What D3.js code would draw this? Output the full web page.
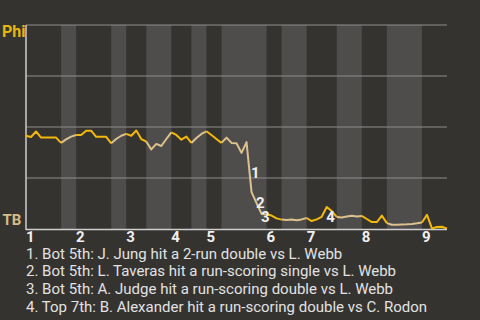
<!DOCTYPE html>
<html>
<head>
<meta charset="utf-8">
<script src="https://cdn.jsdelivr.net/npm/d3@7"></script>
<style>
  body { margin: 0; background: #353330; }
  svg { display: block; font-family: Roboto, "Noto Sans", sans-serif; }
</style>
</head>
<body>
<div id="chart"></div>
<script>
// inning labels
var innings = ["1", "2", "3", "4", "5", "6", "7", "8", "9"];

// events in each half inning (top 1, bot 1, top 2 ...)
var halfInningEvents = [7, 3, 7, 3, 4, 5, 4, 3, 3, 9, 3, 5, 6, 5, 5, 7, 5];

// Phi win probability (%) after each event
var winProb = [
  45.7, 45.1, 47.8, 44.8, 44.8, 44.8, 44.8, 42.2, 43.9, 45.3,
  46.1, 46.1, 48.2, 48.2, 45.2, 45.2, 45.2, 42.0, 44.1, 45.7,
  46.6, 45.7, 48.3, 44.1, 42.9, 39.0, 41.7, 40.7, 44.1, 47.4,
  46.1, 43.8, 45.3, 42.2, 44.6, 46.6, 47.9, 46.1, 44.1, 42.2,
  44.8, 42.2, 42.0, 37.3, 42.6, 18.1, 12.7, 7.4, 7.2, 6.6,
  5.2, 4.6, 4.4, 4.6, 4.3, 4.7, 5.4, 3.9, 4.7, 6.0,
  10.8, 8.8, 5.9, 5.6, 6.1, 6.5, 6.1, 6.4, 4.9, 3.4,
  3.4, 6.6, 2.9, 2.1, 2.1, 2.2, 2.3, 2.5, 2.8, 3.2,
  6.9, 0.3, 1.0, 1.1, 0.2
];

// key plays
var playEvents = [45, 46, 47, 60];
var playLabels = ["1", "2", "3", "4"];
var playTexts = [
  "1. Bot 5th: J. Jung hit a 2-run double vs L. Webb",
  "2. Bot 5th: L. Taveras hit a run-scoring single vs L. Webb",
  "3. Bot 5th: A. Judge hit a run-scoring double vs L. Webb",
  "4. Top 7th: B. Alexander hit a run-scoring double vs C. Rodon"
];

var teamTop = "Phi";
var teamBottom = "TB";

//svg container
var svgWidth = 480;
var svgHeight = 320;

var margin = { top: 25, right: 33, bottom: 91, left: 26 };
var width = svgWidth - margin.left - margin.right;
var height = svgHeight - margin.top - margin.bottom;

var yellow = "#f3b80a";
var tan = "#dcc28e";

var svg = d3.select("#chart")
  .append("svg")
  .attr("width", svgWidth)
  .attr("height", svgHeight);

svg.append("rect")
  .attr("width", svgWidth)
  .attr("height", svgHeight)
  .attr("fill", "#353330");

var chartGroup = svg.append("g")
  .attr("transform", `translate(${margin.left}, ${margin.top})`);

//scales
var xScale = d3.scaleLinear()
  .domain([0, winProb.length - 1])
  .range([0, width]);

var yScale = d3.scaleLinear()
  .domain([0, 100])
  .range([height, 0]);

//half inning start/end indexes
var halves = [];
var start = 0;
halfInningEvents.forEach(function(n, i) {
  halves.push({ start: start, end: start + n, top: i % 2 == 0, inning: Math.floor(i / 2) });
  start += n;
});

//shaded bottom halves
chartGroup.selectAll(".band")
  .data(halves.filter(d => !d.top))
  .enter()
  .append("rect")
  .attr("class", "band")
  .attr("x", d => xScale(d.start))
  .attr("width", d => xScale(d.end) - xScale(d.start))
  .attr("y", 0)
  .attr("height", height)
  .attr("fill", "#4e4d4b");

//gridlines
chartGroup.selectAll(".grid")
  .data([25, 50, 75, 100])
  .enter()
  .append("line")
  .attr("x1", 0)
  .attr("x2", width)
  .attr("y1", d => yScale(d))
  .attr("y2", d => yScale(d))
  .attr("stroke", "#8e8e8c")
  .attr("stroke-width", 1.2);

//axes lines
chartGroup.append("line")
  .attr("x1", 0).attr("x2", width)
  .attr("y1", yScale(0) + 0.5).attr("y2", yScale(0) + 0.5)
  .attr("stroke", "#cfcfcf")
  .attr("stroke-width", 1.5);

chartGroup.append("line")
  .attr("x1", 0).attr("x2", 0)
  .attr("y1", 0).attr("y2", yScale(0) + 1)
  .attr("stroke", "#cfcfcf")
  .attr("stroke-width", 1.5);

//win prob line, one piece per half inning
var line = d3.line()
  .x(d => xScale(d))
  .y(d => yScale(winProb[d]));

chartGroup.selectAll(".wp")
  .data(halves)
  .enter()
  .append("path")
  .attr("class", "wp")
  .attr("d", d => line(d3.range(d.start, d.end + 1)))
  .attr("fill", "none")
  .attr("stroke", d => d.top ? yellow : tan)
  .attr("stroke-width", 2)
  .attr("stroke-linejoin", "round");

//play markers at the middle of each play's segment, nudged down if they collide
var markers = [];
playEvents.forEach(function(e, i) {
  var m = {
    x: (xScale(e - 1) + xScale(e)) / 2 + 2,
    y: (yScale(winProb[e - 1]) + yScale(winProb[e])) / 2 + 10.5,
    label: playLabels[i]
  };
  var prev = markers[markers.length - 1];
  if (prev && Math.abs(prev.x - m.x) < 12 && m.y - prev.y < 13.5) {
    m.y = prev.y + 13.5;
  }
  markers.push(m);
});

chartGroup.selectAll(".play")
  .data(markers)
  .enter()
  .append("text")
  .attr("class", "play")
  .attr("x", d => d.x)
  .attr("y", d => d.y)
  .attr("fill", "#f0f0f0")
  .attr("font-size", 15)
  .attr("font-weight", "bold")
  .text(d => d.label);

//inning labels
chartGroup.selectAll(".inning")
  .data(halves.filter(d => d.top))
  .enter()
  .append("text")
  .attr("class", "inning")
  .attr("x", d => xScale(d.start))
  .attr("y", height + 13)
  .attr("fill", "#f0f0f0")
  .attr("font-size", 15)
  .attr("font-weight", "bold")
  .text(d => innings[d.inning]);

//team labels
svg.append("text")
  .attr("x", 2)
  .attr("y", 36.5)
  .attr("fill", "#e6b60e")
  .attr("font-size", 16)
  .attr("font-weight", "bold")
  .text(teamTop);

svg.append("text")
  .attr("x", 2.5)
  .attr("y", 225)
  .attr("fill", "#d6bd86")
  .attr("font-size", 15)
  .attr("font-weight", "bold")
  .text(teamBottom);

//play descriptions
svg.selectAll(".desc")
  .data(playTexts)
  .enter()
  .append("text")
  .attr("class", "desc")
  .attr("x", 26)
  .attr("y", (d, i) => 258.5 + i * 17.8)
  .attr("fill", "#e2e2e2")
  .attr("font-size", 15)
  .text(d => d);
</script>
</body>
</html>
